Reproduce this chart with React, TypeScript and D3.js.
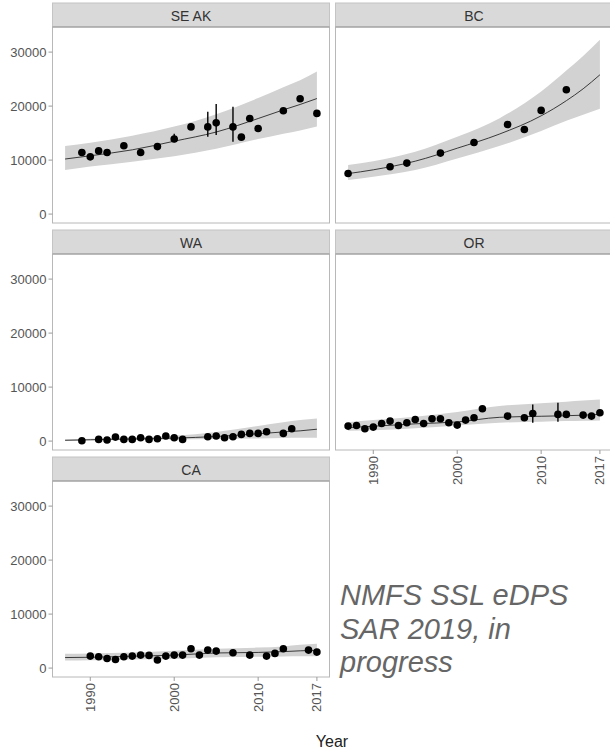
import React, { useEffect } from "react";
import * as d3 from "d3";

// ---------- data ----------
const yTicks = [0, 10000, 20000, 30000];
const xTicks = [1990, 2000, 2010, 2017];
const fitYears = [1987, 1990, 1995, 2000, 2005, 2010, 2013, 2015, 2017];

const seakYears = [1989, 1990, 1991, 1992, 1994, 1996, 1998, 2000, 2002, 2004, 2005, 2007, 2008, 2009, 2010, 2013, 2015, 2017];
const seakCounts = [11400, 10600, 11700, 11400, 12650, 11400, 12500, 13900, 16150, 16150, 16900, 16150, 14250, 17700, 15850, 19150, 21350, 18650];
const seakErrYears = [2000, 2004, 2005, 2007];
const seakErrLo = [13300, 14320, 14630, 13400];
const seakErrHi = [14900, 18950, 20370, 19880];
const seakFit = [10200, 10800, 11900, 13500, 15200, 17700, 19300, 20300, 21400];
const seakLo = [8150, 8800, 9700, 10700, 12100, 13900, 14900, 15500, 16200];
const seakHi = [12600, 13200, 14500, 16200, 18500, 21500, 23500, 24800, 26400];

const bcYears = [1987, 1992, 1994, 1998, 2002, 2006, 2008, 2010, 2013];
const bcCounts = [7530, 8770, 9440, 11300, 13270, 16600, 15680, 19200, 23020];
const bcFit = [7500, 8200, 9800, 12200, 14800, 18200, 21000, 23200, 25800];
const bcLo = [6300, 6900, 8150, 10300, 12590, 15400, 17300, 18400, 19500];
const bcHi = [9070, 9800, 11540, 14320, 17720, 22700, 26600, 29300, 32300];

const waYears = [1989, 1991, 1992, 1993, 1994, 1995, 1996, 1997, 1998, 1999, 2000, 2001, 2004, 2005, 2006, 2007, 2008, 2009, 2010, 2011, 2013, 2014];
const waCounts = [50, 310, 190, 740, 310, 310, 620, 310, 430, 930, 620, 310, 800, 930, 620, 800, 1240, 1420, 1420, 1730, 1420, 2280];
const waFit = [150, 250, 400, 550, 850, 1350, 1700, 1900, 2200];
const waLo = [50, 100, 200, 300, 400, 500, 550, 600, 600];
const waHi = [300, 450, 700, 1000, 1700, 2800, 3500, 3900, 4200];

const orYears = [1987, 1988, 1989, 1990, 1991, 1992, 1993, 1994, 1995, 1996, 1997, 1998, 1999, 2000, 2001, 2002, 2003, 2006, 2008, 2009, 2012, 2013, 2015, 2016, 2017];
const orCounts = [2780, 2900, 2280, 2590, 3270, 3700, 2900, 3400, 4010, 3270, 4130, 4130, 3400, 2960, 3890, 4320, 5990, 4630, 4320, 5120, 4940, 4940, 4810, 4630, 5250];
const orErrYears = [2009, 2012];
const orErrLo = [3400, 3580];
const orErrHi = [6790, 7100];
const orFit = [2500, 2750, 3200, 3550, 4400, 4600, 4700, 4800, 4950];
const orLo = [1900, 2000, 2400, 2900, 3400, 3600, 3700, 3750, 3800];
const orHi = [3500, 3900, 4500, 5400, 6500, 7000, 7300, 7500, 7700];

const caYears = [1990, 1991, 1992, 1993, 1994, 1995, 1996, 1997, 1998, 1999, 2000, 2001, 2002, 2003, 2004, 2005, 2007, 2009, 2011, 2012, 2013, 2016, 2017];
const caCounts = [2220, 2100, 1790, 1600, 2100, 2220, 2410, 2350, 1500, 2220, 2410, 2410, 3580, 2410, 3330, 3150, 2840, 2410, 2220, 2720, 3580, 3330, 2960];
const caFit = [1950, 2000, 2200, 2400, 2800, 2900, 3050, 3200, 3300];
const caLo = [1400, 1450, 1600, 1700, 2000, 2100, 2150, 2200, 2200];
const caHi = [2650, 2700, 2900, 3200, 3600, 3800, 4000, 4300, 4500];

const regionNames = ["SE AK", "BC", "WA", "OR", "CA"];
const noteLines = ["NMFS SSL eDPS", "SAR 2019, in", "progress"];

// ---------- layout ----------
const W = 610;
const H = 750;
const colX = [52.5, 335.5];
const panelW = 277;
const rowTop = [3, 230, 457];
const stripH = 24;
const panelH = 196;
const FONT = "'Liberation Sans', Arial, sans-serif";

type Region = {
  name: string;
  col: number;
  row: number;
  years: number[];
  counts: number[];
  errYears: number[];
  errLo: number[];
  errHi: number[];
  fit: number[];
  lo: number[];
  hi: number[];
  yAxis: boolean;
  xAxis: boolean;
};

const regions: Region[] = [
  { name: regionNames[0], col: 0, row: 0, years: seakYears, counts: seakCounts, errYears: seakErrYears, errLo: seakErrLo, errHi: seakErrHi, fit: seakFit, lo: seakLo, hi: seakHi, yAxis: true, xAxis: false },
  { name: regionNames[1], col: 1, row: 0, years: bcYears, counts: bcCounts, errYears: [], errLo: [], errHi: [], fit: bcFit, lo: bcLo, hi: bcHi, yAxis: false, xAxis: false },
  { name: regionNames[2], col: 0, row: 1, years: waYears, counts: waCounts, errYears: [], errLo: [], errHi: [], fit: waFit, lo: waLo, hi: waHi, yAxis: true, xAxis: false },
  { name: regionNames[3], col: 1, row: 1, years: orYears, counts: orCounts, errYears: orErrYears, errLo: orErrLo, errHi: orErrHi, fit: orFit, lo: orLo, hi: orHi, yAxis: false, xAxis: true },
  { name: regionNames[4], col: 0, row: 2, years: caYears, counts: caCounts, errYears: [], errLo: [], errHi: [], fit: caFit, lo: caLo, hi: caHi, yAxis: true, xAxis: true },
];

function Panel({ r }: { r: Region }) {
  const x0 = colX[r.col];
  const sTop = rowTop[r.row];
  const pTop = sTop + stripH;
  const pBot = pTop + panelH;
  const x = d3.scaleLinear().domain([1985.5, 2018.5]).range([x0, x0 + panelW]);
  const y = d3.scaleLinear().domain([-1650, 34650]).range([pBot, pTop]);

  const area = d3
    .area<number>()
    .x((_, i) => x(fitYears[i]))
    .y0((_, i) => y(r.lo[i]))
    .y1((_, i) => y(r.hi[i]))
    .curve(d3.curveMonotoneX);
  const line = d3
    .line<number>()
    .x((_, i) => x(fitYears[i]))
    .y((d) => y(d))
    .curve(d3.curveMonotoneX);

  const clipId = `clip-${r.col}-${r.row}`;
  return (
    <g>
      <defs>
        <clipPath id={clipId}>
          <rect x={x0} y={pTop} width={panelW} height={panelH} />
        </clipPath>
      </defs>
      <rect x={x0} y={sTop} width={panelW} height={stripH} fill="#d9d9d9" stroke="#c4c4c4" strokeWidth={1} />
      <text x={x0 + panelW / 2} y={sTop + stripH / 2 + 1} textAnchor="middle" dominantBaseline="central" fontSize={14} fill="#333" fontFamily={FONT}>
        {r.name}
      </text>
      <rect x={x0} y={pTop} width={panelW} height={panelH} fill="#fff" />
      <g clipPath={`url(#${clipId})`}>
        <path d={area(r.fit) || ""} fill="#d2d2d2" />
        <path d={line(r.fit) || ""} fill="none" stroke="#3a3a3a" strokeWidth={1} />
        {r.errYears.map((yr, i) => (
          <line key={"e" + i} x1={x(yr)} x2={x(yr)} y1={y(r.errLo[i])} y2={y(r.errHi[i])} stroke="#000" strokeWidth={1.4} />
        ))}
        {r.years.map((yr, i) => (
          <circle key={"p" + i} cx={x(yr)} cy={y(r.counts[i])} r={3.8} fill="#000" />
        ))}
      </g>
      <rect x={x0} y={pTop} width={panelW} height={panelH} fill="none" stroke="#b8b8b8" strokeWidth={1} />
      <line x1={x0} x2={x0 + panelW} y1={pTop} y2={pTop} stroke="#9a9a9a" strokeWidth={1} />
      {r.yAxis &&
        yTicks.map((t) => (
          <g key={"y" + t}>
            <line x1={x0 - 4} x2={x0} y1={y(t)} y2={y(t)} stroke="#9a9a9a" />
            <text x={x0 - 6} y={y(t)} textAnchor="end" dominantBaseline="central" fontSize={13} fill="#555" fontFamily={FONT}>
              {t}
            </text>
          </g>
        ))}
      {r.xAxis &&
        xTicks.map((t) => (
          <g key={"x" + t}>
            <line x1={x(t)} x2={x(t)} y1={pBot} y2={pBot + 4} stroke="#9a9a9a" />
            <text
              transform={`translate(${x(t)},${pBot + 6}) rotate(-90)`}
              textAnchor="end"
              dominantBaseline="central"
              fontSize={13}
              fill="#555"
              fontFamily={FONT}
            >
              {t}
            </text>
          </g>
        ))}
    </g>
  );
}

export default function App() {
  useEffect(() => {
    document.body.style.margin = "0";
  }, []);
  return (
    <svg width={W} height={H} style={{ display: "block", position: "absolute", left: 0, top: 0 }} fontFamily={FONT}>
      <rect x={0} y={0} width={W} height={H} fill="#fff" />
      {regions.map((r) => (
        <Panel key={r.name} r={r} />
      ))}
      <text x={332} y={747} textAnchor="middle" fontSize={16} fill="#222" fontFamily={FONT}>
        Year
      </text>
      {noteLines.map((s, i) => (
        <text key={s} x={340} y={605 + i * 33.5} fontSize={29} fontStyle="italic" fill="#666" fontFamily={FONT}>
          {s}
        </text>
      ))}
    </svg>
  );
}
